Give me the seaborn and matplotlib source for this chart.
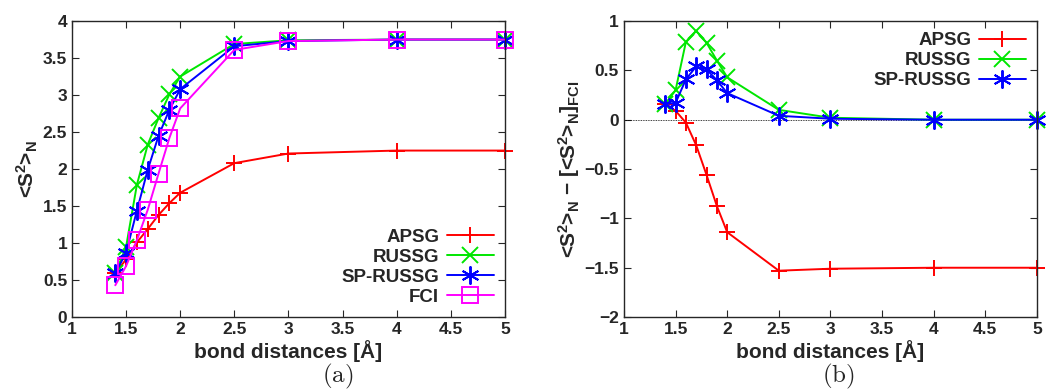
import matplotlib
matplotlib.use("Agg")
import matplotlib.pyplot as plt
import seaborn as sns
import pandas as pd

# bond distances (Angstrom)
dist = [1.4, 1.5, 1.6, 1.7, 1.8, 1.9, 2.0, 2.5, 3.0, 4.0, 5.0]

# (a) <S^2>_N
apsg_a = [0.59, 0.78, 1.01, 1.19, 1.38, 1.54, 1.68, 2.08, 2.21, 2.25, 2.25]
russg_a = [0.59, 0.95, 1.79, 2.33, 2.69, 3.01, 3.25, 3.69, 3.74, 3.75, 3.75]
sprussg_a = [0.59, 0.87, 1.44, 1.99, 2.45, 2.80, 3.08, 3.66, 3.73, 3.75, 3.75]
fci_a = [0.43, 0.69, 1.04, 1.45, 1.94, 2.42, 2.82, 3.61, 3.73, 3.75, 3.75]

# (b) <S^2>_N - [<S^2>_N]_FCI
apsg_b = [0.16, 0.09, -0.03, -0.26, -0.56, -0.875, -1.14, -1.53, -1.51, -1.50, -1.50]
russg_b = [0.16, 0.30, 0.79, 0.90, 0.78, 0.60, 0.43, 0.10, 0.02, 0.0, 0.0]
sprussg_b = [0.16, 0.17, 0.41, 0.54, 0.51, 0.40, 0.27, 0.04, 0.01, 0.0, 0.0]

sns.set_style("ticks")
plt.rcParams['font.family'] = ['Liberation Sans', 'DejaVu Sans']
plt.rcParams['font.weight'] = 'bold'
plt.rcParams['mathtext.default'] = 'regular'
plt.rcParams['xtick.direction'] = 'in'
plt.rcParams['ytick.direction'] = 'in'
plt.rcParams['xtick.top'] = True
plt.rcParams['ytick.right'] = True

fig = plt.figure(figsize=(10.48, 3.9), dpi=100)
ax1 = fig.add_axes([0.0687, 0.187, 0.413, 0.759])
ax2 = fig.add_axes([0.5954, 0.187, 0.394, 0.759])

star = (6, 2, 0)
series_a = [
    ("APSG", apsg_a, "#ff0000", "+", 11),
    ("RUSSG", russg_a, "#00e600", "x", 11),
    ("SP-RUSSG", sprussg_a, "#0000ff", star, 13),
    ("FCI", fci_a, "#ff00ff", "s", 11),
]
series_b = [
    ("APSG", apsg_b, "#ff0000", "+", 11),
    ("RUSSG", russg_b, "#00e600", "x", 11),
    ("SP-RUSSG", sprussg_b, "#0000ff", star, 13),
]

ax2.axhline(0, color="black", lw=0.6, ls=(0, (1, 1)), zorder=1)

for ax, series in [(ax1, series_a), (ax2, series_b)]:
    for name, vals, col, mk, ms in series:
        df = pd.DataFrame({"d": dist, "v": vals})
        sns.lineplot(data=df, x="d", y="v", ax=ax, color=col, marker=mk,
                     markersize=ms, markeredgewidth=1.4, markeredgecolor=col,
                     markerfacecolor="none" if mk == "s" else col,
                     lw=1.4, label=name, clip_on=False)
    ax.set_xlim(1, 5)
    ax.set_xticks([1, 1.5, 2, 2.5, 3, 3.5, 4, 4.5, 5])
    ax.set_xticklabels(["1", "1.5", "2", "2.5", "3", "3.5", "4", "4.5", "5"])
    ax.tick_params(labelsize=12.5, length=5, width=0.8)
    for lab in ax.get_xticklabels() + ax.get_yticklabels():
        lab.set_fontweight('bold')
    ax.set_xlabel("bond distances [Å]", fontsize=15, fontweight='bold', labelpad=2)
    for sp in ax.spines.values():
        sp.set_linewidth(1.0)

ax1.set_ylim(0, 4)
ax1.set_yticks([0, 0.5, 1, 1.5, 2, 2.5, 3, 3.5, 4])
ax1.set_yticklabels(["0", "0.5", "1", "1.5", "2", "2.5", "3", "3.5", "4"])
ax1.set_ylabel(r"<S$^{2}$>$_{N}$", fontsize=15, fontweight='bold', labelpad=2)

ax2.set_ylim(-2, 1)
ax2.set_yticks([-2, -1.5, -1, -0.5, 0, 0.5, 1])
ax2.set_yticklabels(["\u22122", "\u22121.5", "\u22121", "\u22120.5", "0", "0.5", "1"])
ax2.set_ylabel("<S$^{2}$>$_{N}$ \u2212 [<S$^{2}$>$_{N}$]$_{FCI}$",
               fontsize=15, fontweight='bold', labelpad=2)

for ax, loc in [(ax1, "lower right"), (ax2, "upper right")]:
    ax.legend(loc=loc, frameon=False, markerfirst=False,
              handlelength=2.5, labelspacing=0.15, borderaxespad=0.2,
              handletextpad=0.4, prop={'weight': 'bold', 'size': 13.5})

for lab, xc in [(r"$\mathrm{(a)}$", 0.322), (r"$\mathrm{(b)}$", 0.80)]:
    fig.text(xc, 0.035, lab, fontsize=18, math_fontfamily='cm',
             ha='center', va='center')

fig.savefig("out.png", dpi=100)
